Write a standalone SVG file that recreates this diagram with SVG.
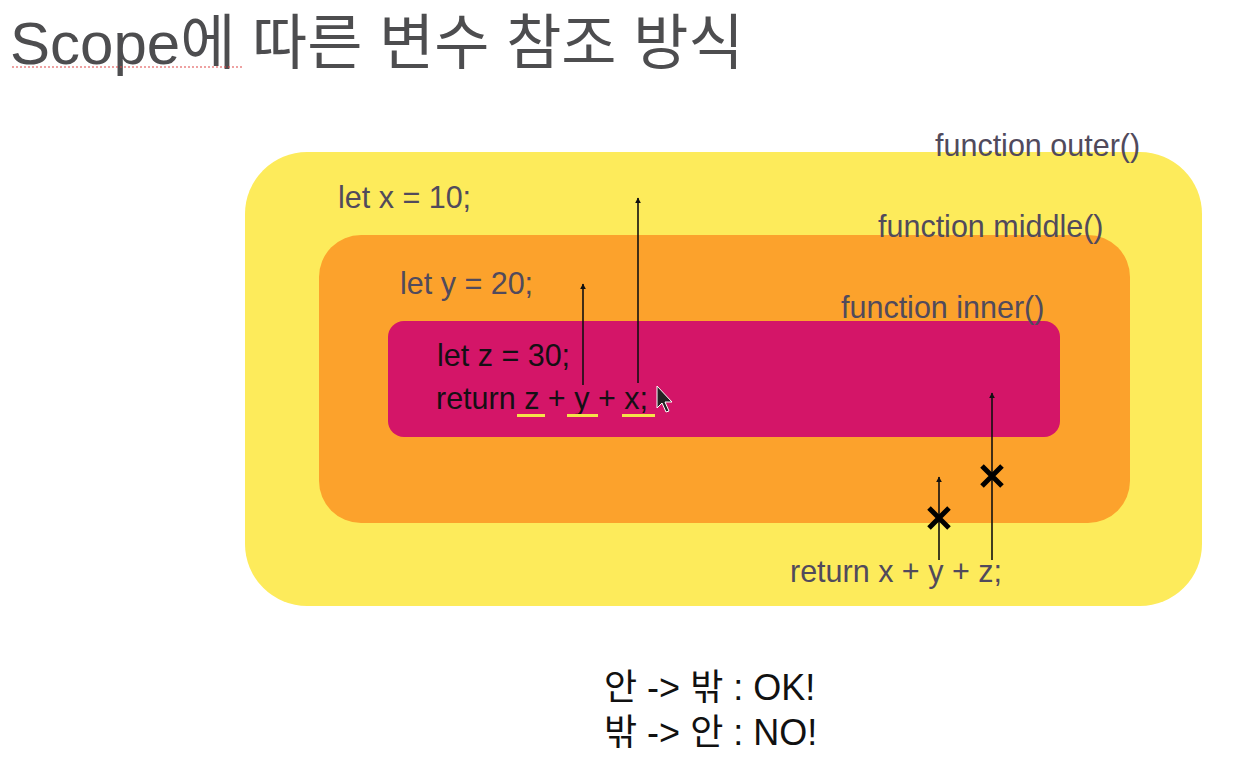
<svg xmlns="http://www.w3.org/2000/svg" width="1240" height="774" viewBox="0 0 1240 774">
<defs>
<style>
.lbl{font-family:"Liberation Sans","Noto Sans CJK KR",sans-serif;font-size:30.5px;fill:#514a5c}
.code{font-family:"Liberation Sans","Noto Sans CJK KR",sans-serif;font-size:30.5px;fill:#141014}
.ttl{font-family:"Liberation Sans","Noto Sans CJK KR",sans-serif;font-size:60px;fill:#4d4d4f}
.note{font-family:"Liberation Sans","Noto Sans CJK KR",sans-serif;font-size:36px;fill:#111}
.arr{stroke:#111;stroke-width:1.6;fill:none;marker-end:url(#ah)}
.xm{stroke:#000;stroke-width:5;stroke-linecap:butt}
.hl{fill:#f5e24a}
</style>
<marker id="ah" viewBox="0 0 10 10" refX="9" refY="5" markerWidth="6" markerHeight="6" markerUnits="userSpaceOnUse" orient="auto">
<path d="M0,0 L10,5 L0,10 z" fill="#111"/>
</marker>
</defs>
<rect width="1240" height="774" fill="#fff"/>
<g id="title">
<text class="ttl" x="10" y="64">Scope에 따른 변수 참조 방식</text>
<line x1="12" y1="67" x2="242" y2="67" stroke="#d44" stroke-width="1.2" stroke-dasharray="2,2"/>
</g>
<g id="outer">
<rect x="245" y="152" width="957" height="454" rx="62" fill="#fdeb5b"/>
<text class="lbl" x="935" y="156">function outer()</text>
<text class="lbl" x="338" y="208">let x = 10;</text>
<text class="lbl" x="790" y="582">return x + y + z;</text>
</g>
<g id="middle">
<rect x="319" y="235" width="811" height="288" rx="42" fill="#fca22c"/>
<text class="lbl" x="878" y="237">function middle()</text>
<text class="lbl" x="400" y="294">let y = 20;</text>
</g>
<g id="inner">
<rect x="388" y="321" width="672" height="116" rx="16" fill="#d41568"/>
<text class="lbl" x="841" y="318">function inner()</text>
<text class="code" x="437" y="366">let z = 30;</text>
<text class="code" x="436" y="409">return z + y + x;</text>
<rect class="hl" x="517" y="414" width="28" height="3"/>
<rect class="hl" x="567" y="414" width="31" height="3"/>
<rect class="hl" x="622" y="414" width="33" height="3"/>
<path d="M657,386 L657,408 L662,403 L666,412 L669,411 L665,402 L672,402 z" fill="#222" stroke="#fff" stroke-width="1"/>
</g>
<g id="connectors">
<line class="arr" x1="583" y1="385" x2="583" y2="284"/>
<line class="arr" x1="638" y1="383" x2="638" y2="198"/>
<line class="arr" x1="939" y1="560" x2="939" y2="477"/>
<line class="arr" x1="992" y1="560" x2="992" y2="393"/>
<path class="xm" d="M929,508 L949,528 M949,508 L929,528"/>
<path class="xm" d="M982,466 L1002,486 M1002,466 L982,486"/>
</g>
<g id="notes">
<text class="note" x="604" y="700">안 -&gt; 밖 : OK!</text>
<text class="note" x="604" y="745">밖 -&gt; 안 : NO!</text>
</g>
</svg>
